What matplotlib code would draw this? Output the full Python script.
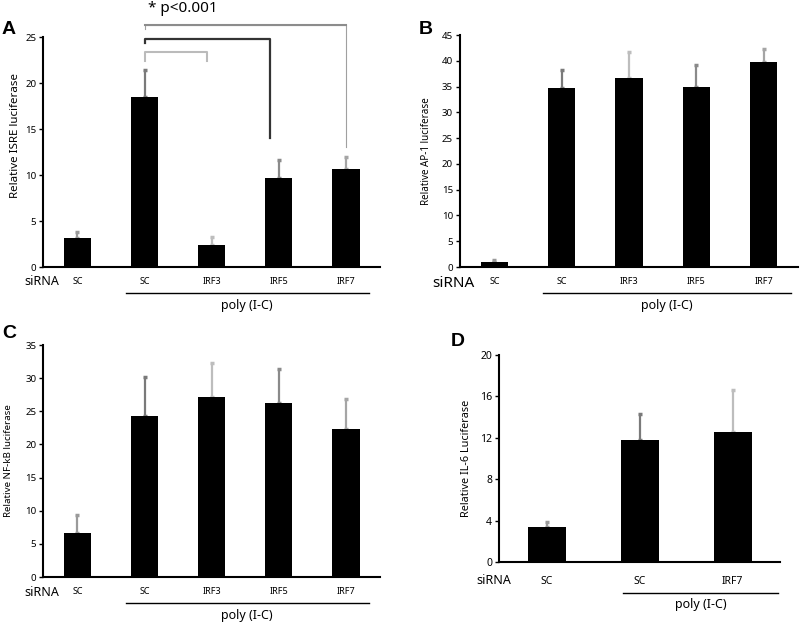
import numpy as np
import matplotlib
matplotlib.use("Agg")
import matplotlib.pyplot as plt

plt.rcParams['font.family'] = ['Noto Sans', 'DejaVu Sans']

# panel A - ISRE
a_labels = ["SC", "SC", "IRF3", "IRF5", "IRF7"]
a_vals = [3.2, 18.5, 2.4, 9.7, 10.7]
a_err = [0.6, 2.9, 0.9, 1.9, 1.3]

# panel B - AP-1
b_labels = ["SC", "SC", "IRF3", "IRF5", "IRF7"]
b_vals = [1.0, 34.7, 36.7, 34.9, 39.8]
b_err = [0.3, 3.5, 5.0, 4.3, 2.5]

# panel C - NF-kB
c_labels = ["SC", "SC", "IRF3", "IRF5", "IRF7"]
c_vals = [6.6, 24.3, 27.2, 26.2, 22.3]
c_err = [2.8, 5.9, 5.1, 5.2, 4.6]

# panel D - IL-6
d_labels = ["SC", "SC", "IRF7"]
d_vals = [3.4, 11.8, 12.6]
d_err = [0.5, 2.5, 4.0]

err_cols = ['#9a9a9a', '#7a7a7a', '#bdbdbd', '#8a8a8a', '#a5a5a5']

fig = plt.figure(figsize=(8, 6.23), dpi=100)


def panel(rect, labels, vals, errs, ymax, step, ylabel, letter, lpos,
          tick_fs=6.5, lab_fs=7, lab_pad=8, xpad=7, big=False):
    ax = fig.add_axes(rect)
    x = np.arange(len(labels))
    ax.bar(x, vals, width=0.41, color='black', zorder=2)
    for i in range(len(x)):
        ax.errorbar(x[i], vals[i], yerr=[[0], [errs[i]]], fmt='none',
                    ecolor=err_cols[i % len(err_cols)], elinewidth=1.6,
                    capsize=1.2, capthick=2.5, zorder=1)
    ax.set_xlim(-0.51, len(labels) - 0.49)
    ax.set_ylim(0, ymax)
    ax.set_yticks(np.arange(0, ymax + 0.1, step))
    ax.set_xticks(x)
    ax.set_xticklabels(labels, fontsize=tick_fs)
    ax.tick_params(axis='y', labelsize=7.5 if big else 7, length=3, width=1, pad=2)
    ax.tick_params(axis='x', length=0, pad=xpad)
    for s in ['top', 'right']:
        ax.spines[s].set_visible(False)
    ax.spines['left'].set_linewidth(1.5)
    ax.spines['bottom'].set_linewidth(1.5)
    ax.set_ylabel(ylabel, fontsize=lab_fs, labelpad=lab_pad)
    fig.text(lpos[0], lpos[1], letter, fontsize=14, fontweight='bold',
             family='Liberation Sans')
    return ax


def poly_line(ax, x0, x1, ydrop, sx, sy, fs=9, sfs=9):
    ax.text(sx, sy, "siRNA", transform=ax.transAxes, fontsize=sfs,
            va='center', ha='left')
    ax.plot([x0, x1], [ydrop, ydrop], color='black', lw=1,
            transform=ax.get_xaxis_transform(), clip_on=False)
    ax.text((x0 + x1) / 2, ydrop - 0.055, "poly (I-C)", fontsize=fs,
            transform=ax.get_xaxis_transform(), ha='center', va='center')


# A
axA = panel([0.054, 0.5714, 0.421, 0.3692], a_labels, a_vals, a_err, 25, 5,
            "Relative ISRE luciferase", "A", (0.002, 0.945),
            lab_fs=8.3, lab_pad=4)
axA.yaxis.set_label_coords(-0.065, 0.57)
poly_line(axA, 0.72, 4.34, -0.113, -0.055, -0.065)
# significance brackets
axA.plot([1, 1, 4.0, 4.0], [25.9, 26.3, 26.3, 13.0], color='#a0a0a0', lw=0.8, clip_on=False)
axA.plot([1, 4.0], [26.3, 26.3], color='#8c8c8c', lw=1.5, clip_on=False)
axA.plot([1, 1, 2.87, 2.87], [24.4, 24.8, 24.8, 14.0], color='#333333', lw=1.6, clip_on=False)
axA.plot([1, 1, 1.93, 1.93], [22.4, 23.4, 23.4, 22.4], color='#bbbbbb', lw=1.5, clip_on=False)
axA.text(1.05, 28.1, "* p<0.001", fontsize=11, ha='left', va='center')

# B
axB = panel([0.575, 0.5714, 0.4225, 0.3724], b_labels, b_vals, b_err, 45, 5,
            "Relative AP-1 luciferase", "B", (0.524, 0.945),
            lab_fs=7.1, lab_pad=7)
poly_line(axB, 0.73, 4.4, -0.113, -0.083, -0.07, sfs=11)

# C
axC = panel([0.054, 0.0738, 0.421, 0.3724], c_labels, c_vals, c_err, 35, 5,
            "Relative NF-kB luciferase", "C", (0.003, 0.458),
            lab_fs=7, lab_pad=9)
poly_line(axC, 0.72, 4.34, -0.113, -0.055, -0.065)

# D
axD = panel([0.624, 0.0979, 0.351, 0.3323], d_labels, d_vals, d_err, 20, 4,
            "Relative IL-6 Luciferase", "D", (0.563, 0.445),
            tick_fs=7.5, lab_fs=7.8, lab_pad=6, xpad=10, big=True)
axD.set_yticklabels([str(v) for v in range(0, 21, 4)], fontweight='bold')
poly_line(axD, 0.82, 2.49, -0.15, -0.082, -0.087)

fig.savefig("out.png", dpi=100)
